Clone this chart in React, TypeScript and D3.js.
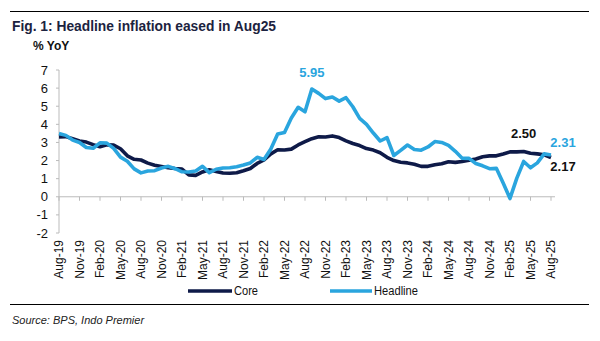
import React from "react";
import * as d3 from "d3";

const startYear = 2019;
const startMonth = 7; // Aug (0-based)
const headline = [
  3.49, 3.39, 3.13, 3.0, 2.72,
  2.68, 2.98, 2.96, 2.67, 2.19, 1.96, 1.54, 1.32, 1.42, 1.44, 1.59, 1.68,
  1.55, 1.38, 1.37, 1.42, 1.68, 1.33, 1.52, 1.59, 1.6, 1.66, 1.75, 1.87,
  2.18, 2.06, 2.64, 3.47, 3.55, 4.35, 4.94, 4.69, 5.95, 5.71, 5.42, 5.51,
  5.28, 5.47, 4.97, 4.33, 4.0, 3.52, 3.08, 3.27, 2.28, 2.56, 2.86, 2.61,
  2.57, 2.75, 3.05, 3.0, 2.84, 2.51, 2.13, 2.12, 1.84, 1.71, 1.55, 1.57,
  0.76, -0.09, 1.03, 1.95, 1.6, 1.87, 2.37, 2.31,
];
const core = [
  3.3, 3.32, 3.2, 3.08, 3.02,
  2.88, 2.76, 2.87, 2.85, 2.65, 2.26, 2.07, 2.03, 1.86, 1.74, 1.67, 1.6,
  1.56, 1.53, 1.21, 1.18, 1.37, 1.49, 1.4, 1.31, 1.3, 1.33, 1.44, 1.56,
  1.84, 2.03, 2.37, 2.6, 2.58, 2.63, 2.86, 3.04, 3.21, 3.31, 3.3, 3.36,
  3.27, 3.09, 2.94, 2.83, 2.66, 2.58, 2.43, 2.18, 2.0, 1.91, 1.87, 1.8,
  1.68, 1.68, 1.77, 1.82, 1.93, 1.9, 1.95, 2.02, 2.09, 2.21, 2.26, 2.26,
  2.36, 2.48, 2.48, 2.5, 2.4, 2.37, 2.32, 2.17,
];
const yTicks = [-2, -1, 0, 1, 2, 3, 4, 5, 6, 7];
const monthNames = ["Jan","Feb","Mar","Apr","May","Jun","Jul","Aug","Sep","Oct","Nov","Dec"];
const annotations = [
  { series: "headline", index: 37, text: "5.95" },
  { series: "core", index: 68, text: "2.50" },
  { series: "headline", index: 72, text: "2.31" },
  { series: "core", index: 72, text: "2.17" },
];

const CORE_COLOR = "#0e1a48";
const HEAD_COLOR = "#2aa5de";
const NARROW = "'Liberation Sans Narrow', 'Arial Narrow', Arial, sans-serif";
const SANS = "'Liberation Sans', Arial, sans-serif";

function label(i: number) {
  const m = (startMonth + i) % 12;
  const y = startYear + Math.floor((startMonth + i) / 12);
  return `${monthNames[m]}-${String(y).slice(2)}`;
}

export default function App() {
  const W = 600, H = 341;
  const x = d3.scaleLinear().domain([0, headline.length - 1]).range([59, 551]);
  const y = d3.scaleLinear().domain([-2, 7]).range([233, 70]);
  const line = d3.line<number>().x((_, i) => x(i)).y((d) => y(d)).curve(d3.curveLinear);
  const tickIdx = d3.range(0, headline.length, 3);

  const annPos: Record<string, { dx: number; dy: number; color: string }> = {
    "5.95": { dx: 0, dy: -12, color: HEAD_COLOR },
    "2.50": { dx: 0, dy: -14, color: "#111" },
    "2.31": { dx: 12, dy: -8, color: HEAD_COLOR },
    "2.17": { dx: 12, dy: 14, color: "#111" },
  };

  return (
    <svg width={W} height={H} style={{ position: "absolute", left: 0, top: 0, background: "#fff" }}>
      <line x1={10} x2={589} y1={11.5} y2={11.5} stroke="#000" strokeWidth={1.2} />
      <text x={12} y={31} fontFamily={SANS} fontWeight="bold" fontSize={13.8} fill="#1c2340">
        Fig. 1: Headline inflation eased in Aug25
      </text>
      <text x={33} y={50} fontFamily={NARROW} fontWeight="bold" fontSize={12} fill="#111">% YoY</text>

      {/* y axis */}
      <line x1={59} x2={59} y1={y(7)} y2={y(-2)} stroke="#bbb" strokeWidth={1} />
      {yTicks.map((t) => (
        <g key={t}>
          <line x1={56} x2={59} y1={y(t)} y2={y(t)} stroke="#bbb" />
          <text x={48} y={y(t)} dy="0.35em" textAnchor="end" fontFamily={NARROW} fontSize={13} fill="#111">
            {t}
          </text>
        </g>
      ))}
      {/* zero line */}
      <line x1={59} x2={555} y1={y(0)} y2={y(0)} stroke="#bbb" strokeWidth={1} />
      {tickIdx.map((i) => (
        <g key={i}>
          <line x1={x(i)} x2={x(i)} y1={y(0)} y2={y(0) + 4} stroke="#bbb" />
          <text
            transform={`translate(${x(i) + 4},${240}) rotate(-90)`}
            textAnchor="end"
            fontFamily={NARROW}
            fontSize={12}
            fill="#111"
          >
            {label(i)}
          </text>
        </g>
      ))}

      <path d={line(core) || ""} fill="none" stroke={CORE_COLOR} strokeWidth={3.6} strokeLinejoin="round" />
      <path d={line(headline) || ""} fill="none" stroke={HEAD_COLOR} strokeWidth={3.6} strokeLinejoin="round" />

      {annotations.map((a) => {
        const v = a.series === "core" ? core[a.index] : headline[a.index];
        const p = annPos[a.text];
        return (
          <text
            key={a.text}
            x={x(a.index) + p.dx}
            y={y(v) + p.dy}
            textAnchor="middle"
            fontFamily={NARROW}
            fontWeight="bold"
            fontSize={13}
            fill={p.color}
          >
            {a.text}
          </text>
        );
      })}

      {/* legend */}
      <line x1={188} x2={232} y1={291} y2={291} stroke={CORE_COLOR} strokeWidth={3.6} />
      <text x={234} y={291} dy="0.35em" fontFamily={NARROW} fontSize={12.5} fill="#111"
        textLength={24} lengthAdjust="spacingAndGlyphs">Core</text>
      <line x1={330} x2={372} y1={291} y2={291} stroke={HEAD_COLOR} strokeWidth={3.6} />
      <text x={374} y={291} dy="0.35em" fontFamily={NARROW} fontSize={12.5} fill="#111"
        textLength={44} lengthAdjust="spacingAndGlyphs">Headline</text>

      <line x1={10} x2={589} y1={304.5} y2={304.5} stroke="#000" strokeWidth={1.2} />
      <text x={12} y={324} fontFamily={SANS} fontStyle="italic" fontSize={11} fill="#222">
        Source: BPS, Indo Premier
      </text>
    </svg>
  );
}
